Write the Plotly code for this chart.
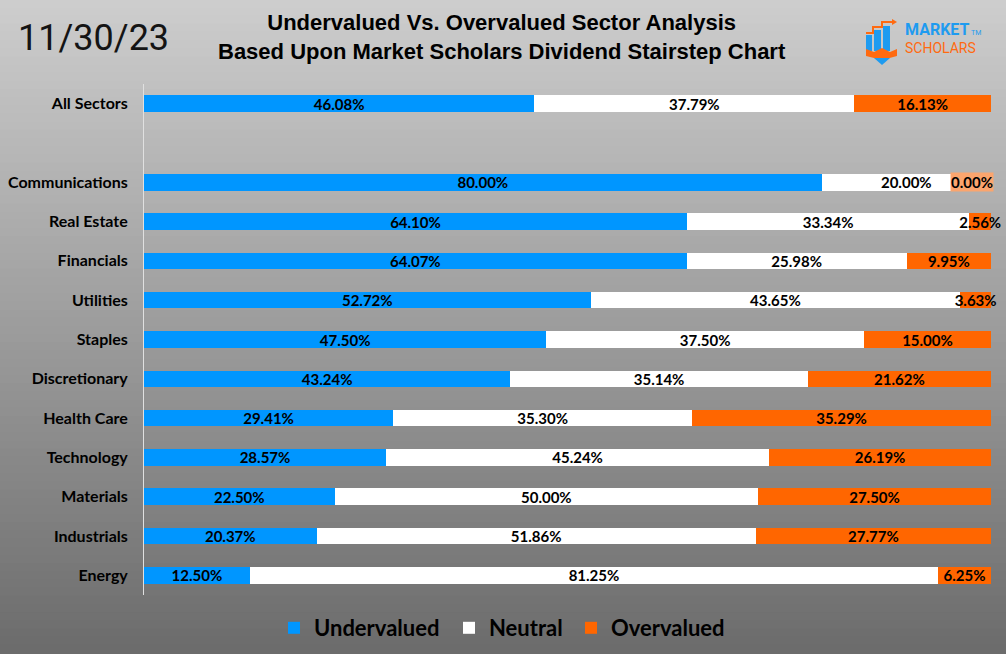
import plotly.graph_objects as go

categories = ["All Sectors", "", "Communications", "Real Estate", "Financials", "Utilities",
              "Staples", "Discretionary", "Health Care", "Technology", "Materials",
              "Industrials", "Energy"]
undervalued = [46.08, None, 80.00, 64.10, 64.07, 52.72, 47.50, 43.24, 29.41, 28.57, 22.50, 20.37, 12.50]
neutral = [37.79, None, 20.00, 33.34, 25.98, 43.65, 37.50, 35.14, 35.30, 45.24, 50.00, 51.86, 81.25]
overvalued = [16.13, None, 0.00, 2.56, 9.95, 3.63, 15.00, 21.62, 35.29, 26.19, 27.50, 27.77, 6.25]

series_names = ["Undervalued", "Neutral", "Overvalued"]
series_colors = ["#0096FF", "#FFFFFF", "#FF6600"]

W, H = 1006, 654
L, R, T, B = 144, 991, 84, 595


def px(x):
    return (x - L) / (R - L)


def py(y):
    return (B - y) / (B - T)


ypos = list(range(len(categories)))


def fmt(v):
    if v is None or v == 0:
        return ""
    return f"{v:.2f}%"


label_font = dict(family="Lato", size=15, color="black", weight="bold")
legend_ids = ["legend", "legend2", "legend3"]
legend_px = [274, 449, 571]

fig = go.Figure()
for name, vals, col, lid in zip(series_names, [undervalued, neutral, overvalued], series_colors, legend_ids):
    fig.add_trace(go.Bar(
        y=ypos, x=vals, name=name, orientation="h", legend=lid,
        marker=dict(color=col, line=dict(width=0)),
        text=[fmt(v) for v in vals], textposition="inside", insidetextanchor="middle",
        textfont=label_font, cliponaxis=False, hoverinfo="skip",
    ))

# zero-value labels (Excel shows them with a light box)
annotations = []
for i, (u, n, o) in enumerate(zip(undervalued, neutral, overvalued)):
    if o is not None and o == 0:
        annotations.append(dict(
            x=u + n + o, y=ypos[i], xref="x", yref="y", text=f"{o:.2f}%",
            showarrow=False, xanchor="right", xshift=3,
            bgcolor="#FBA56E", borderpad=0, font=label_font))

# gradient background
shapes = []
n_steps = 80
top_c, bot_c = (205, 205, 205), (108, 108, 108)
for k in range(n_steps):
    t = k / (n_steps - 1)
    c = tuple(int(round(top_c[j] + (bot_c[j] - top_c[j]) * t)) for j in range(3))
    y0 = H * k / n_steps - 1
    y1 = H * (k + 1) / n_steps + 1
    shapes.append(dict(type="rect", xref="paper", yref="paper", layer="below",
                       x0=px(-2), x1=px(W + 2), y0=py(y1), y1=py(y0),
                       fillcolor=f"rgb{c}", line=dict(width=0)))

# logo icon
blue, orange = "#1E9BF0", "#FF6A10"
for (x0, x1, y0, y1) in [(866, 872, 35, 51), (874, 881, 30, 51), (883, 890, 26, 51)]:
    shapes.append(dict(type="rect", xref="paper", yref="paper", x0=px(x0), x1=px(x1),
                       y0=py(y1), y1=py(y0), fillcolor=blue, line=dict(width=0)))
shapes.append(dict(type="path", xref="paper", yref="paper",
                   path=f"M {px(866)},{py(33)} L {px(873)},{py(33)} L {px(873)},{py(27)} L {px(882)},{py(27)} L {px(882)},{py(22)} L {px(893)},{py(22)}",
                   line=dict(color=orange, width=2)))
shapes.append(dict(type="path", xref="paper", yref="paper",
                   path=f"M {px(892)},{py(19)} L {px(897)},{py(22)} L {px(892)},{py(25)} Z",
                   fillcolor=orange, line=dict(width=0)))
shapes.append(dict(type="path", xref="paper", yref="paper",
                   path=f"M {px(866)},{py(49)} L {px(874)},{py(52)} L {px(882)},{py(48)} L {px(890)},{py(52)} L {px(897)},{py(49)} L {px(897)},{py(56)} L {px(882)},{py(60)} L {px(866)},{py(56)} Z",
                   fillcolor=orange, line=dict(width=0)))
shapes.append(dict(type="path", xref="paper", yref="paper",
                   path=f"M {px(874)},{py(58)} L {px(890)},{py(58)} L {px(882)},{py(65)} Z",
                   fillcolor=blue, line=dict(width=0)))

logo_text = (f"<b><span style='color:{blue};font-size:16px'>MARKET</span></b>"
             f"<span style='color:{blue};font-size:7px'> TM</span>"
             f"<br><span style='color:{orange};font-size:14px'>SCHOLARS</span>")

annotations += [
    dict(text="11/30/23", x=px(16), y=py(38), xref="paper", yref="paper", xanchor="left",
         yanchor="middle", showarrow=False, font=dict(family="Roboto", size=36, color="#141414")),
    dict(text="Undervalued Vs. Overvalued Sector Analysis<br>Based Upon Market Scholars Dividend Stairstep Chart",
         x=px(502), y=py(37), xref="paper", yref="paper", xanchor="center", yanchor="middle",
         showarrow=False, align="center",
         font=dict(family="Liberation Sans", size=22, color="black", weight="bold")),
    dict(text=logo_text, x=px(903), y=py(38), xref="paper", yref="paper", xanchor="left",
         yanchor="middle", align="left", showarrow=False,
         font=dict(family="Roboto", size=14, color=blue)),
]

legend_common = dict(orientation="h", xref="container", yref="container", y=1 - 628 / H,
                     xanchor="left", yanchor="middle",
                     font=dict(family="Lato", size=22, color="black", weight="bold"),
                     bgcolor="rgba(0,0,0,0)", itemclick=False)

fig.update_layout(
    width=W, height=H, barmode="stack", bargap=0.58,
    margin=dict(l=L, r=W - R, t=T, b=H - B, pad=0, autoexpand=False),
    paper_bgcolor="#6c6c6c", plot_bgcolor="rgba(0,0,0,0)",
    uniformtext=dict(minsize=15, mode="show"),
    shapes=shapes, annotations=annotations,
    showlegend=True,
    legend=dict(x=legend_px[0] / W, **legend_common),
    legend2=dict(x=legend_px[1] / W, **legend_common),
    legend3=dict(x=legend_px[2] / W, **legend_common),
    xaxis=dict(range=[0, 100], showgrid=False, showticklabels=False, zeroline=False,
               showline=False, fixedrange=True),
    yaxis=dict(range=[len(categories) - 0.5, -0.5], tickmode="array", tickvals=ypos,
               ticktext=categories, showgrid=False, zeroline=False, showline=True,
               linecolor="#E0E0E0", linewidth=1, ticks="", ticklen=0,
               tickfont=dict(family="Lato", size=16, color="black", weight="bold"),
               ticklabelstandoff=12, fixedrange=True),
)

fig.write_html("out.html")
